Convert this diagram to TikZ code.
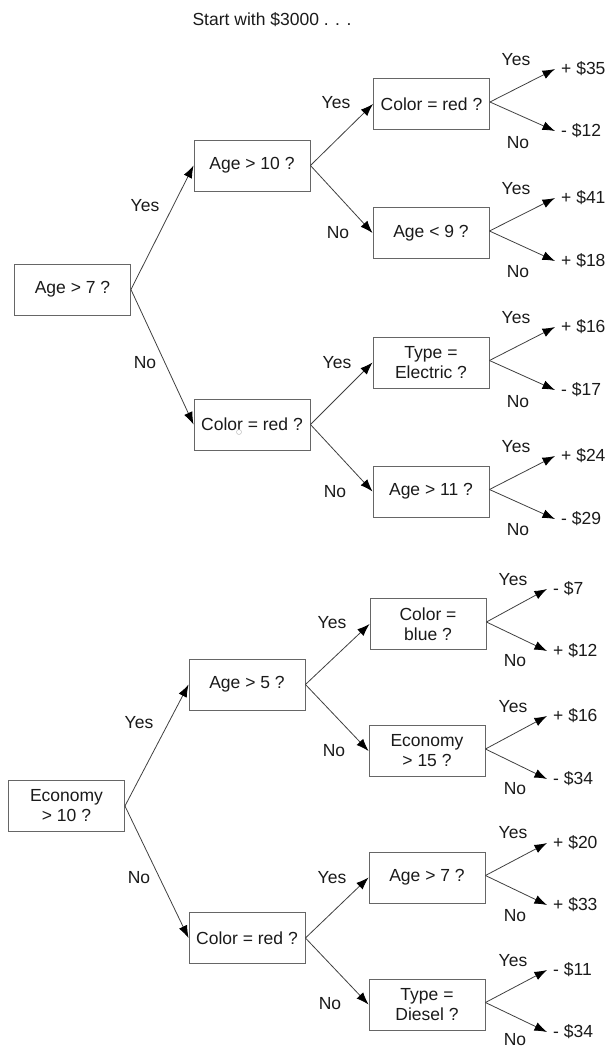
\documentclass[tikz,border=0pt]{standalone}
\usepackage{fontspec}
\setmainfont{Liberation Sans}
\usetikzlibrary{arrows.meta}
\definecolor{boxc}{HTML}{666666}
\definecolor{linec}{HTML}{404040}
\definecolor{txtc}{HTML}{1A1A1A}
\begin{document}
\begin{tikzpicture}[x=1pt,y=-1pt,
  font=\fontsize{17.5}{20}\selectfont, text=txtc,
  qbox/.style={draw=boxc, line width=0.9pt, minimum width=116pt, minimum height=51pt, inner sep=2pt, align=center},
  leaf/.style={anchor=west, inner xsep=6pt, inner ysep=0pt},
  conn/.style={draw=linec, line width=0.8pt, -{Latex[length=12.5pt,width=9pt,color=black]}},
  lab/.style={inner sep=0pt}]
\useasboundingbox (0,0) rectangle (609,1049);

\node[lab] (title) at (272,20) {Start with \$3000 . . .};

% ---------- Tree 1 ----------
\node[qbox] (r1) at (72.5,289.5) {Age > 7 ?};
\node[qbox] (a)  at (252,165.5) {Age > 10 ?};
\node[qbox] (b)  at (252,424.5) {Color = red ?};
\node[qbox] (aa) at (431.5,104) {Color = red ?};
\node[qbox] (ab) at (431,233) {Age < 9 ?};
\node[qbox] (ba) at (431,362.5) {Type =\\Electric ?};
\node[qbox] (bb) at (431,491.5) {Age > 11 ?};

\draw[conn] (r1.east) -- (a.west);
\draw[conn] (r1.east) -- (b.west);
\draw[conn] (a.east) -- (aa.west);
\draw[conn] (a.east) -- (ab.west);
\draw[conn] (b.east) -- (ba.west);
\draw[conn] (b.east) -- (bb.west);

\node[lab] (l1) at (145,206) {Yes};
\node[lab] (l2) at (145,363) {No};
\node[lab] (l3) at (336,103) {Yes};
\node[lab] (l4) at (338,233) {No};
\node[lab] (l5) at (337,363) {Yes};
\node[lab] (l6) at (335,492) {No};

\node[leaf] (aay) at (555,69) {+ \$35};
\node[leaf] (aan) at (555,131) {- \$12};
\node[leaf] (aby) at (555,198) {+ \$41};
\node[leaf] (abn) at (555,261) {+ \$18};
\node[leaf] (bay) at (555,327) {+ \$16};
\node[leaf] (ban) at (555,390) {- \$17};
\node[leaf] (bby) at (555,456) {+ \$24};
\node[leaf] (bbn) at (555,519) {- \$29};

\foreach \n in {aa,ab,ba,bb}{
  \draw[conn] ([yshift=2pt]\n.east) -- (\n y.west);
  \draw[conn] ([yshift=2pt]\n.east) -- (\n n.west);
}

\node[lab] (m1) at (516,60) {Yes};
\node[lab] (m2) at (518,143) {No};
\node[lab] (m3) at (516,189) {Yes};
\node[lab] (m4) at (518,272) {No};
\node[lab] (m5) at (516,318) {Yes};
\node[lab] (m6) at (518,402) {No};
\node[lab] (m7) at (516,447) {Yes};
\node[lab] (m8) at (518,530) {No};

\draw[gray!50, line width=0.5pt] (239,432) circle (2.5pt);

% ---------- Tree 2 ----------
\node[qbox] (r2) at (66.5,806) {Economy\\> 10 ?};
\node[qbox] (c)  at (247,684.5) {Age > 5 ?};
\node[qbox] (d)  at (247,938) {Color = red ?};
\node[qbox] (ca) at (428,624) {Color =\\blue ?};
\node[qbox] (cb) at (427,751) {Economy\\> 15 ?};
\node[qbox] (da) at (427,877.5) {Age > 7 ?};
\node[qbox] (db) at (427,1004.5) {Type =\\Diesel ?};

\draw[conn] (r2.east) -- (c.west);
\draw[conn] (r2.east) -- (d.west);
\draw[conn] (c.east) -- (ca.west);
\draw[conn] (c.east) -- (cb.west);
\draw[conn] (d.east) -- (da.west);
\draw[conn] (d.east) -- (db.west);

\node[lab] (k1) at (139,723) {Yes};
\node[lab] (k2) at (139,878) {No};
\node[lab] (k3) at (332,623) {Yes};
\node[lab] (k4) at (334,751) {No};
\node[lab] (k5) at (332,878) {Yes};
\node[lab] (k6) at (330,1004) {No};

\node[leaf] (cay) at (547,589) {- \$7};
\node[leaf] (can) at (547,651) {+ \$12};
\node[leaf] (cby) at (547,716) {+ \$16};
\node[leaf] (cbn) at (547,779) {- \$34};
\node[leaf] (day) at (547,843) {+ \$20};
\node[leaf] (dan) at (547,905) {+ \$33};
\node[leaf] (dby) at (547,970) {- \$11};
\node[leaf] (dbn) at (547,1032) {- \$34};

\foreach \n in {ca,cb,da,db}{
  \draw[conn] ([yshift=2pt]\n.east) -- (\n y.west);
  \draw[conn] ([yshift=2pt]\n.east) -- (\n n.west);
}

\node[lab] (j1) at (513,580) {Yes};
\node[lab] (j2) at (515,661) {No};
\node[lab] (j3) at (513,707) {Yes};
\node[lab] (j4) at (515,789) {No};
\node[lab] (j5) at (513,833) {Yes};
\node[lab] (j6) at (515,916) {No};
\node[lab] (j7) at (513,961) {Yes};
\node[lab] (j8) at (515,1040) {No};
\end{tikzpicture}
\end{document}
